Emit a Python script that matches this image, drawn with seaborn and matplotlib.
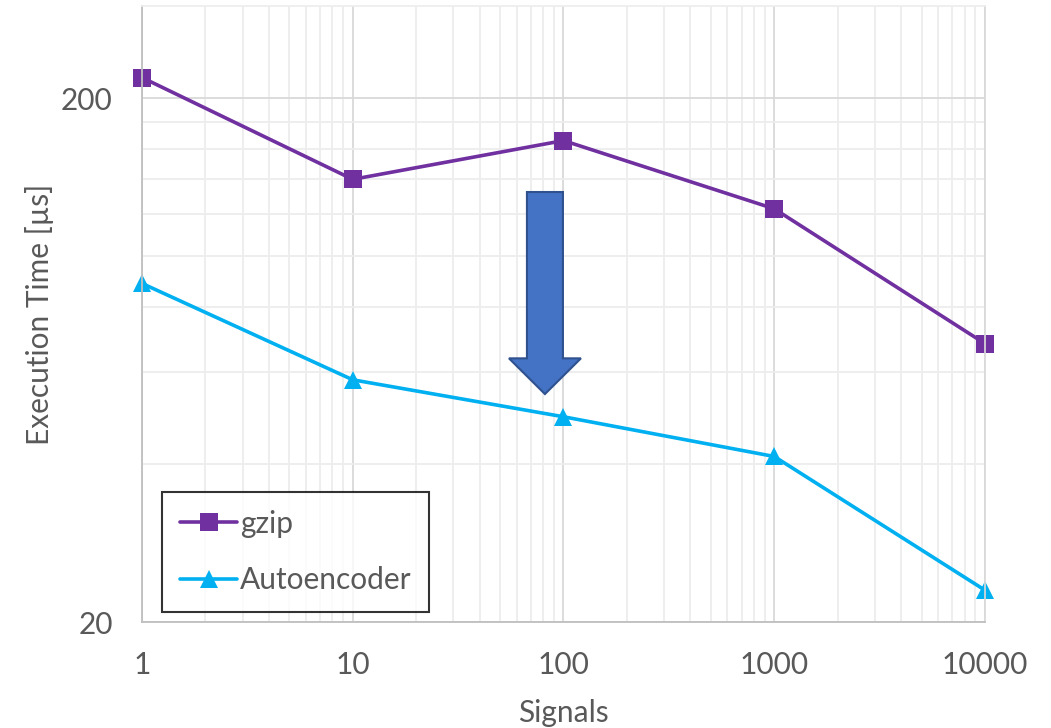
import pandas as pd
import numpy as np
import matplotlib.pyplot as plt
import seaborn as sns
from matplotlib.patches import FancyArrow
from matplotlib.ticker import FixedLocator, NullFormatter

# Data
signals = [1, 10, 100, 1000, 10000]
gzip_time = [219, 140, 166, 123, 68]
autoencoder_time = [88.6, 58, 49.3, 41.4, 23]

df = pd.concat([
    pd.DataFrame({"Signals": signals, "Time": gzip_time, "Method": "gzip"}),
    pd.DataFrame({"Signals": signals, "Time": autoencoder_time, "Method": "Autoencoder"}),
])

sns.set_theme(style="white")
plt.rcParams["font.family"] = ["Lato", "DejaVu Sans"]

grey = "#595959"
colors = {"gzip": "#7030A0", "Autoencoder": "#00B0F0"}
markers = {"gzip": "s", "Autoencoder": "^"}

fig = plt.figure(figsize=(10.51, 7.28), dpi=100)
ax = fig.add_axes([0.1351, 0.1456, 0.8021, 0.8462])

sns.lineplot(data=df, x="Signals", y="Time", hue="Method", style="Method",
             palette=colors, markers=markers, dashes=False, linewidth=2.6,
             markersize=13, markeredgewidth=0, ax=ax, legend=True, clip_on=False)

ax.set_xscale("log")
ax.set_yscale("log")
ax.set_xlim(1, 10000)
ax.set_ylim(20, 300)

# ticks and grid like the Excel chart
ax.xaxis.set_major_locator(FixedLocator([1, 10, 100, 1000, 10000]))
ax.xaxis.set_minor_locator(FixedLocator([m * 10 ** d for d in range(4) for m in range(2, 10)]))
ax.yaxis.set_major_locator(FixedLocator([20, 200]))
ax.yaxis.set_minor_locator(FixedLocator([40, 60, 80, 100, 120, 140, 160, 180]))
ax.set_xticklabels(["1", "10", "100", "1000", "10000"])
ax.set_yticklabels(["20", "200"])
ax.xaxis.set_minor_formatter(NullFormatter())
ax.yaxis.set_minor_formatter(NullFormatter())
ax.tick_params(which="both", length=0, labelsize=21.5, labelcolor=grey)
ax.tick_params(axis="x", pad=21)
ax.tick_params(axis="y", pad=21)
ax.grid(which="major", color="#D9D9D9", linewidth=1.3)
ax.grid(which="minor", color="#EDEDED", linewidth=1.3)
ax.set_axisbelow(True)

for side in ["left", "bottom"]:
    ax.spines[side].set_color("#BFBFBF")
    ax.spines[side].set_linewidth(1.3)
ax.spines["right"].set_color("#D9D9D9")
ax.spines["top"].set_color("#EDEDED")

ax.set_xlabel("Signals", fontsize=21.5, color=grey, labelpad=14)
ax.set_ylabel("Execution Time [µs]", fontsize=21.5, color=grey, labelpad=5)

# legend
handles, labels = ax.get_legend_handles_labels()
leg = ax.legend(handles, labels, loc="lower left", bbox_to_anchor=(0.024, 0.016),
                borderaxespad=0, fontsize=21.5, labelcolor=grey, frameon=True,
                fancybox=False, edgecolor="black", labelspacing=0.95,
                handlelength=1.9, handletextpad=0.1, borderpad=0.6)
leg.get_frame().set_linewidth(1.5)
for text in leg.get_texts():
    text.set_color(grey)

# blue block arrow
arrow = FancyArrow(0.478, 0.698, 0, -0.328, width=0.0427, head_width=0.0854,
                   head_length=0.058, length_includes_head=True,
                   transform=ax.transAxes, facecolor="#4472C4",
                   edgecolor="#2F528F", linewidth=1.5, zorder=5)
ax.add_patch(arrow)

fig.savefig("out.png", dpi=100)
